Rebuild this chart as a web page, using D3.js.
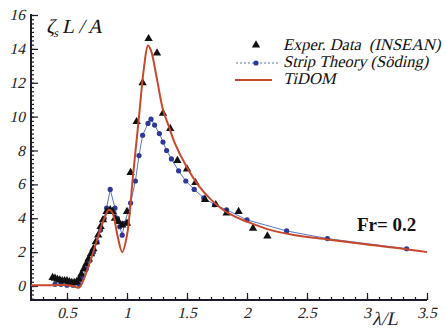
<!DOCTYPE html>
<html><head><meta charset="utf-8">
<script src="https://cdn.jsdelivr.net/npm/d3@7"></script>
<style>body{margin:0;background:#fff}svg{display:block}</style>
</head><body>
<svg id="c" width="445" height="328" font-family="'Liberation Serif', serif"></svg>
<script>
const xTicks = [0.5, 1, 1.5, 2, 2.5, 3, 3.5];
const yTicks = [0, 2, 4, 6, 8, 10, 12, 14, 16];

const expLambda = [0.38,0.40,0.42,0.44,0.46,0.48,0.50,0.52,0.54,0.56,0.58,0.60,0.62,0.64,0.66,0.68,0.70,0.72,0.74,0.76,0.78,0.80,0.83,0.86,0.88,0.90,0.93,0.96,1.00,1.00,1.03,1.08,1.13,1.18,1.25,1.30,1.36,1.42,1.50,1.57,1.65,1.74,1.83,1.93,2.05,2.17];
const expValue  = [0.5,0.45,0.4,0.35,0.3,0.3,0.3,0.25,0.2,0.2,0.25,0.4,0.7,1.0,1.3,1.6,1.9,2.2,2.6,3.0,3.5,3.9,4.4,4.5,4.4,4.0,3.8,3.6,3.7,4.4,6.7,9.7,12.0,14.6,13.75,10.2,9.3,7.4,6.9,6.1,5.1,4.8,4.3,4.4,3.4,2.95];

const stripLambda = [0.40,0.45,0.50,0.55,0.60,0.63,0.66,0.69,0.72,0.75,0.78,0.81,0.83,0.86,0.90,0.92,0.94,0.96,0.98,1.03,1.07,1.10,1.13,1.175,1.20,1.23,1.27,1.30,1.33,1.37,1.43,1.49,1.56,1.64,1.73,1.83,2.00,2.33,2.67,3.33];
const stripValue  = [0.1,0.1,0.05,0.05,0.1,0.5,1.0,1.5,2.0,2.6,3.3,4.0,4.6,5.7,4.6,4.0,3.5,3.0,3.7,4.9,6.2,7.7,8.9,9.6,9.85,9.5,9.0,8.5,8.0,7.5,6.8,6.2,5.7,5.2,4.8,4.5,3.9,3.25,2.8,2.2];

const tidomLambda = [0.2,0.3,0.4,0.5,0.55,0.6,0.65,0.7,0.75,0.8,0.85,0.88,0.92,0.96,1.0,1.05,1.1,1.14,1.175,1.2,1.25,1.3,1.35,1.4,1.5,1.6,1.7,1.8,1.9,2.0,2.2,2.4,2.67,3.0,3.3,3.5];
const tidomValue  = [0.05,0.05,0.05,0.05,0.0,-0.1,0.6,1.6,2.7,3.8,4.5,4.3,3.0,2.0,3.0,6.5,10.0,12.8,14.2,13.9,12.2,10.4,9.4,8.4,7.0,5.9,5.1,4.5,4.1,3.8,3.3,3.0,2.75,2.45,2.2,2.0];

const FONT = "'Liberation Serif', serif";
const SKEW = -13;
const svg = d3.select('#c');
const x = d3.scaleLinear().domain([0.2, 3.5]).range([31, 427]);
const y = d3.scaleLinear().domain([0, 16]).range([286, 15]);
const axisColor = '#1b1b2e';

function slanted(sel, px, py) {
  return sel.attr('transform', `translate(${px},${py}) skewX(${SKEW})`).attr('x', 0).attr('y', 0)
    .attr('font-family', FONT);
}

// Axes
const xAxisY = 300;
const gx = svg.append('g').attr('transform', `translate(0,${xAxisY})`);
gx.call(d3.axisTop(x).tickValues(d3.range(0.2, 3.5001, 0.1)).tickSize(3).tickFormat(''));
gx.append('g').call(d3.axisTop(x).tickValues(xTicks).tickSize(7).tickFormat(''));
gx.selectAll('path.domain').remove();
gx.append('line').attr('x1', x(0.2) - 1).attr('x2', x(3.5)).attr('y1', 0).attr('y2', 0).attr('stroke', axisColor).attr('stroke-width', 2);
gx.selectAll('.tick line').attr('stroke', axisColor).attr('stroke-width', 1.2);
svg.append('g').selectAll('text').data(xTicks).join('text')
  .each(function(d) { slanted(d3.select(this), x(d), 318); })
  .attr('text-anchor', 'middle').attr('font-size', 15.5).attr('fill', '#222')
  .text(d => d);

const gy = svg.append('g').attr('transform', `translate(31,0)`);
gy.call(d3.axisRight(y).tickValues(d3.range(-0.75, 16.001, 0.25)).tickSize(3).tickFormat(''));
gy.append('g').call(d3.axisRight(y).tickValues(yTicks).tickSize(7).tickFormat(''));
gy.selectAll('path.domain').remove();
gy.append('line').attr('x1', 0).attr('x2', 0).attr('y1', y(16) - 1).attr('y2', xAxisY + 1).attr('stroke', axisColor).attr('stroke-width', 2);
gy.selectAll('.tick line').attr('stroke', axisColor).attr('stroke-width', 1.2);
svg.append('g').selectAll('text').data(yTicks).join('text')
  .each(function(d) { slanted(d3.select(this), 25, y(d) + 5); })
  .attr('text-anchor', 'end').attr('font-size', 15.5).attr('fill', '#222')
  .text(d => d);

// Axis titles
const yt = slanted(svg.append('text'), 46, 33).attr('font-size', 20).attr('fill', '#111');
yt.append('tspan').text('ζ');
yt.append('tspan').attr('font-size', 12).attr('dy', 4).text('s');
yt.append('tspan').attr('dy', -4).attr('dx', 3).text('L / A');
slanted(svg.append('text'), 372, 325).attr('font-size', 19).attr('fill', '#1b1b3a').text('λ/L');

// Strip theory
const stripData = stripLambda.map((l, i) => [l, stripValue[i]]);
svg.append('path').datum(stripData)
  .attr('fill', 'none').attr('stroke', '#5d74c8').attr('stroke-width', 1)
  .attr('d', d3.line().x(d => x(d[0])).y(d => y(d[1])));
svg.append('g').selectAll('circle').data(stripData).join('circle')
  .attr('cx', d => x(d[0])).attr('cy', d => y(d[1])).attr('r', 2.6).attr('fill', '#2c3a96');

// Experimental
const expData = expLambda.map((l, i) => [l, expValue[i]]);
const tri = d3.symbol().type(d3.symbolTriangle).size(30);
svg.append('g').selectAll('path').data(expData).join('path')
  .attr('transform', d => `translate(${x(d[0])},${y(d[1])})`).attr('d', tri).attr('fill', '#111');

// TiDOM
const tidomData = tidomLambda.map((l, i) => [l, tidomValue[i]]);
svg.append('path').datum(tidomData)
  .attr('fill', 'none').attr('stroke', '#c9472b').attr('stroke-width', 2)
  .attr('d', d3.line().curve(d3.curveCatmullRom.alpha(0.5)).x(d => x(d[0])).y(d => y(d[1])));

// Legend
const lg = svg.append('g');
lg.append('path').attr('transform', 'translate(256,45)').attr('d', tri).attr('fill', '#111');
lg.append('line').attr('x1', 236).attr('x2', 278).attr('y1', 63).attr('y2', 63).attr('stroke', '#5d74c8').attr('stroke-width', 1).attr('stroke-dasharray', '2,2');
lg.append('circle').attr('cx', 256).attr('cy', 63).attr('r', 2.6).attr('fill', '#2c3a96');
lg.append('line').attr('x1', 235).attr('x2', 272).attr('y1', 80).attr('y2', 80).attr('stroke', '#c9472b').attr('stroke-width', 2);
const legendLabels = ['Exper. Data  (INSEAN)', 'Strip Theory (Söding)', 'TiDOM'];
lg.selectAll('text').data(legendLabels).join('text')
  .each(function(d, i) { slanted(d3.select(this), 283, 50 + i * 17); })
  .attr('font-size', 16.5).attr('fill', '#111')
  .style('white-space', 'pre')
  .text(d => d);

svg.append('text').attr('x', 357).attr('y', 231).attr('font-family', FONT).attr('font-size', 19).attr('font-weight', 'bold').attr('fill', '#111').text('Fr= 0.2');
</script>
</body></html>
